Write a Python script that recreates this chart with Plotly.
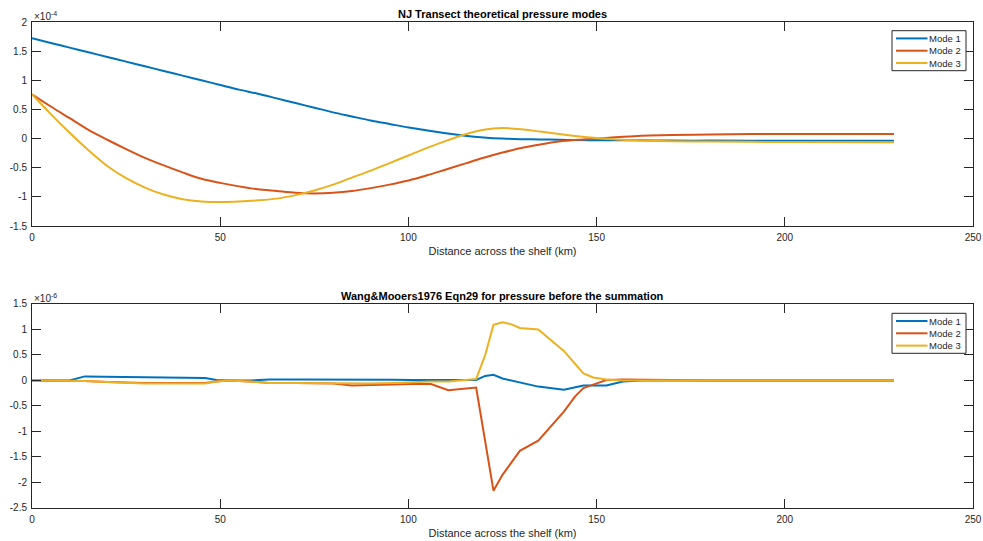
import plotly.graph_objects as go

# ---------------- data (top panel, units of 1e-4) ----------------
x_top = [0, 5, 10, 15, 20, 25, 30, 35, 40, 45, 50, 55, 60, 65, 70, 75, 80, 85, 90, 95,
         100, 105, 110, 115, 120, 125, 130, 135, 140, 145, 150, 160, 170, 180, 200, 229]
mode1_top = [1.72, 1.64, 1.56, 1.48, 1.40, 1.32, 1.24, 1.16, 1.08, 1.00, 0.92, 0.84, 0.77,
             0.69, 0.61, 0.53, 0.45, 0.38, 0.31, 0.25, 0.19, 0.14, 0.09, 0.05, 0.02, 0.0,
             -0.01, -0.015, -0.02, -0.025, -0.03, -0.03, -0.035, -0.035, -0.036, -0.036]
mode2_top = [0.76, 0.55, 0.35, 0.15, -0.02, -0.18, -0.33, -0.46, -0.58, -0.69, -0.76, -0.82,
             -0.87, -0.90, -0.93, -0.94, -0.93, -0.90, -0.85, -0.79, -0.72, -0.63, -0.53,
             -0.43, -0.33, -0.24, -0.16, -0.10, -0.05, -0.02, 0.0, 0.04, 0.06, 0.07, 0.08, 0.08]
mode3_top = [0.76, 0.42, 0.10, -0.20, -0.47, -0.68, -0.84, -0.96, -1.04, -1.08, -1.09, -1.08,
             -1.06, -1.03, -0.97, -0.89, -0.79, -0.67, -0.55, -0.42, -0.29, -0.16, -0.04,
             0.07, 0.15, 0.18, 0.16, 0.12, 0.08, 0.04, 0.01, -0.03, -0.045, -0.05, -0.06, -0.065]

# ---------------- data (bottom panel, units of 1e-6) ----------------
x_bot = [0, 10, 14, 20, 30, 40, 46, 49, 52, 58, 63, 70, 80, 85, 90, 96, 101, 106, 110.6,
         118, 120.4, 122.6, 125, 127.4, 129.6, 134.5, 141.3, 144.3, 146.5, 149.1, 152.6,
         157, 162, 170, 180, 200, 229]
mode1_bot = [0, 0, 0.08, 0.075, 0.07, 0.06, 0.05, 0.01, 0, 0, 0.02, 0.02, 0.02, 0.025, 0.02,
             0.015, 0.01, 0.01, 0.02, 0.01, 0.09, 0.11, 0.04, 0.0, -0.05, -0.12, -0.18, -0.14,
             -0.10, -0.10, -0.10, -0.02, 0, 0, 0, 0, 0]
mode2_bot = [0, 0, -0.01, -0.03, -0.05, -0.05, -0.05, -0.02, 0, -0.02, -0.05, -0.05, -0.06,
             -0.10, -0.09, -0.07, -0.07, -0.07, -0.19, -0.14, -1.19, -2.16, -1.85, -1.60,
             -1.38, -1.18, -0.61, -0.31, -0.15, -0.08, 0.01, 0.02, 0.02, 0.01, 0, 0, 0]
mode3_bot = [0, 0, -0.01, -0.03, -0.06, -0.06, -0.06, -0.02, 0, -0.02, -0.05, -0.05, -0.06,
             -0.06, -0.06, -0.05, -0.03, -0.02, -0.02, 0.03, 0.50, 1.09, 1.14, 1.10, 1.03,
             1.00, 0.58, 0.32, 0.14, 0.06, 0.02, 0.0, 0, 0, 0, 0, 0]

names = ["Mode 1", "Mode 2", "Mode 3"]
colors = ["#0072BD", "#D95319", "#EDB120"]

top_ticks = [2, 1.5, 1, 0.5, 0, -0.5, -1, -1.5]
bot_ticks = [1.5, 1, 0.5, 0, -0.5, -1, -1.5, -2, -2.5]
x_ticks = [0, 50, 100, 150, 200, 250]

AX = "#262626"
FONT = "Liberation Sans, Arial, sans-serif"

W, H = 983, 541
ML, MR, MT, MB = 32, 10, 22, 33
PW, PH = W - ML - MR, H - MT - MB
TOP_DOM = [0.5802, 1.0]
BOT_DOM = [0.0, 0.4198]

fig = go.Figure()
for nm, col, ys in zip(names, colors, [mode1_top, mode2_top, mode3_top]):
    fig.add_trace(go.Scatter(x=x_top, y=ys, name=nm, mode="lines", showlegend=False,
                             line=dict(color=col, width=2, shape="spline", smoothing=0.8),
                             xaxis="x", yaxis="y"))
for nm, col, ys in zip(names, colors, [mode1_bot, mode2_bot, mode3_bot]):
    fig.add_trace(go.Scatter(x=x_bot, y=ys, name=nm, mode="lines", showlegend=False,
                             line=dict(color=col, width=2),
                             xaxis="x2", yaxis="y2"))

def fmt(v):
    return "%g" % v

axis_common = dict(showgrid=False, zeroline=False, showline=True, linecolor=AX, linewidth=1,
                   mirror="ticks", ticks="inside", ticklen=9, tickcolor=AX, tickwidth=1,
                   automargin=False,
                   tickfont=dict(family=FONT, size=10, color=AX))

xtitle = dict(text="Distance across the shelf (km)", font=dict(family=FONT, size=11, color=AX),
              standoff=5)

# ---- legend boxes (paper-space decoration, like MATLAB's legend) ----
shapes = []
annos = []

def px2x(px):
    return (px - ML) / PW

def py2y(py):
    return 1 - (py - MT) / PH

def add_legend(top_px):
    x0, x1 = 892, 966
    shapes.append(dict(type="rect", xref="paper", yref="paper",
                       x0=px2x(x0), x1=px2x(x1), y0=py2y(top_px), y1=py2y(top_px + 40),
                       line=dict(color=AX, width=1), fillcolor="white", layer="above"))
    for i, (nm, col) in enumerate(zip(names, colors)):
        yy = top_px + 7.7 + i * 12.3
        shapes.append(dict(type="line", xref="paper", yref="paper",
                           x0=px2x(896), x1=px2x(927.5), y0=py2y(yy), y1=py2y(yy),
                           line=dict(color=col, width=2), layer="above"))
        annos.append(dict(text=nm, xref="paper", yref="paper", x=px2x(927.5), y=py2y(yy),
                          xanchor="left", yanchor="middle", showarrow=False, borderpad=0,
                          font=dict(family=FONT, size=9.5, color=AX)))

add_legend(30.7)
add_legend(313.3)

annos += [
    dict(text="<b>NJ Transect theoretical pressure modes</b>", xref="paper", yref="paper",
         x=0.5, y=TOP_DOM[1], xanchor="center", yanchor="bottom", yshift=0, showarrow=False,
         font=dict(family=FONT, size=11, color="black")),
    dict(text="<b>Wang&Mooers1976 Eqn29 for pressure before the summation</b>", xref="paper",
         yref="paper", x=0.5, y=BOT_DOM[1], xanchor="center", yanchor="bottom", yshift=0,
         showarrow=False, font=dict(family=FONT, size=11, color="black")),
    dict(text="×10<sup>-4</sup>", xref="paper", yref="paper", x=0, y=TOP_DOM[1],
         xanchor="left", yanchor="bottom", showarrow=False, yshift=-2,
         font=dict(family=FONT, size=10, color=AX)),
    dict(text="×10<sup>-6</sup>", xref="paper", yref="paper", x=0, y=BOT_DOM[1],
         xanchor="left", yanchor="bottom", showarrow=False, yshift=-2,
         font=dict(family=FONT, size=10, color=AX)),
]

fig.update_layout(
    width=W, height=H,
    margin=dict(l=ML, r=MR, t=MT, b=MB),
    paper_bgcolor="white", plot_bgcolor="white",
    font=dict(family=FONT, size=10, color=AX),
    showlegend=False,
    xaxis=dict(domain=[0, 1], anchor="y", range=[0, 250], tickvals=x_ticks,
               ticktext=[fmt(v) for v in x_ticks], ticklabelstandoff=2, title=xtitle,
               **axis_common),
    yaxis=dict(domain=TOP_DOM, anchor="x", range=[-1.5, 2], tickvals=top_ticks,
               ticktext=[fmt(v) for v in top_ticks], ticklabelstandoff=2, **axis_common),
    xaxis2=dict(domain=[0, 1], anchor="y2", range=[0, 250], tickvals=x_ticks,
                ticktext=[fmt(v) for v in x_ticks], ticklabelstandoff=2, title=xtitle,
                **axis_common),
    yaxis2=dict(domain=BOT_DOM, anchor="x2", range=[-2.5, 1.5], tickvals=bot_ticks,
                ticktext=[fmt(v) for v in bot_ticks], ticklabelstandoff=2, **axis_common),
    shapes=shapes,
    annotations=annos,
)

fig.write_html("out.html")
